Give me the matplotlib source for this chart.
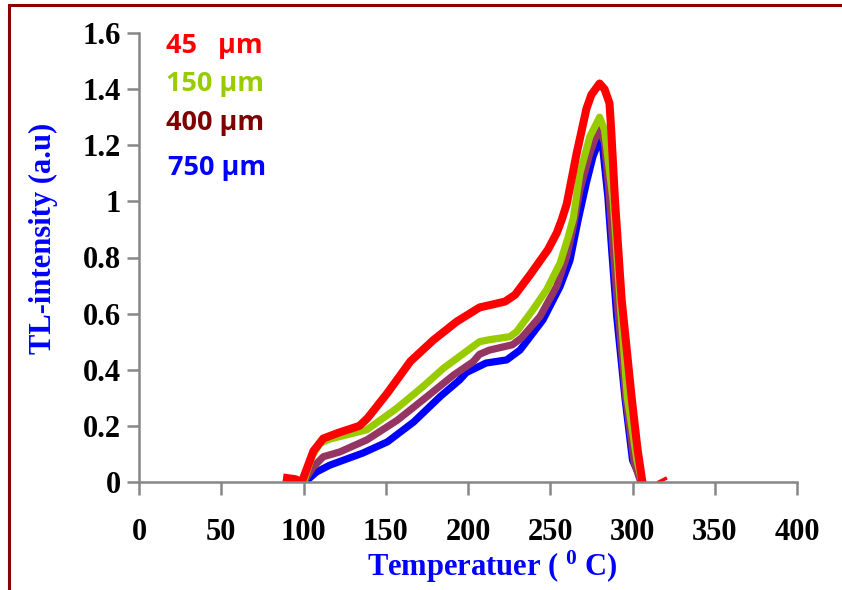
import matplotlib
matplotlib.use('Agg')
import matplotlib.pyplot as plt
from matplotlib.patches import Rectangle

plt.rcParams['mathtext.fontset'] = 'custom'
plt.rcParams['mathtext.rm'] = 'Liberation Serif:bold'
plt.rcParams['mathtext.it'] = 'Liberation Serif:bold'
plt.rcParams['mathtext.bf'] = 'Liberation Serif:bold'

# TL glow curves (temperature in deg C, intensity a.u.)
t_45 = [90, 95, 99, 106, 112, 121, 134, 139, 151, 165, 179, 193, 207, 213, 222.5,
        228.6, 237.7, 248.6, 254, 257, 260, 266, 272, 275, 280, 283, 286, 287, 289.4,
        293.4, 299.5, 303, 306]
i_45 = [0.014, 0.01, 0.0, 0.11, 0.155, 0.175, 0.2, 0.228, 0.317, 0.43, 0.506, 0.571,
        0.622, 0.63, 0.643, 0.667, 0.738, 0.828, 0.888, 0.935, 0.99, 1.17, 1.33, 1.38,
        1.42, 1.40, 1.35, 1.26, 1.0, 0.65, 0.30, 0.12, 0.0]
t_45_tail = [316, 320]
i_45_tail = [0.0, 0.012]

t_150 = [100, 105, 110, 116, 138.5, 157, 172.6, 185, 207, 213, 225.5, 229.6, 239.5,
         247.8, 256, 261, 264, 268, 274, 280, 283, 286, 288.3, 292.4, 296.9, 302.7,
         305.8]
i_150 = [0, 0.09, 0.138, 0.153, 0.186, 0.264, 0.34, 0.405, 0.50, 0.507, 0.518, 0.536,
         0.614, 0.685, 0.78, 0.875, 0.94, 1.10, 1.23, 1.30, 1.255, 1.11, 1.0, 0.65,
         0.30, 0.078, 0]

t_400 = [100, 106, 112, 122, 138.5, 157, 175, 191, 203, 207, 213, 227, 232.6, 243.8,
         253.9, 260, 264, 268, 274, 277, 280, 283, 285.5, 288, 291, 296, 301, 305]
i_400 = [0, 0.054, 0.09, 0.107, 0.15, 0.22, 0.304, 0.38, 0.428, 0.455, 0.47, 0.489,
         0.514, 0.59, 0.697, 0.804, 0.91, 1.04, 1.17, 1.22, 1.256, 1.21, 1.05, 0.85,
         0.62, 0.30, 0.07, 0]

t_750 = [101, 108, 116, 136, 151, 167, 183, 195, 199, 211, 223.5, 231.6, 245.6, 256,
         262, 267, 272, 276, 280, 282, 285, 287.3, 290.4, 295.4, 300, 304.6, 306]
i_750 = [0, 0.036, 0.06, 0.103, 0.143, 0.214, 0.304, 0.364, 0.39, 0.424, 0.435, 0.47,
         0.578, 0.697, 0.79, 0.935, 1.067, 1.16, 1.22, 1.185, 1.017, 0.83, 0.59, 0.30,
         0.078, 0.018, 0]

labels = ['45   \u00b5m', '150 \u00b5m', '400 \u00b5m', '750 \u00b5m']
x_ticks = [0, 50, 100, 150, 200, 250, 300, 350, 400]
y_ticks = [0, 0.2, 0.4, 0.6, 0.8, 1, 1.2, 1.4, 1.6]
y_tick_labels = ['0', '0.2', '0.4', '0.6', '0.8', '1', '1.2', '1.4', '1.6']

fig = plt.figure(figsize=(8.42, 5.9), dpi=100)
ax = fig.add_axes([139/842, 1-482/590, (797-139)/842, (482-33)/590])

lw = 5.2
ax.plot(t_750, i_750, color='#0000ff', lw=lw, solid_joinstyle='round')
ax.plot(t_400, i_400, color='#953563', lw=lw, solid_joinstyle='round')
ax.plot(t_150, i_150, color='#99cc00', lw=lw, solid_joinstyle='round')
ax.plot(t_45, i_45, color='#ff0000', lw=lw + 0.6, solid_joinstyle='round')
ax.plot(t_45_tail, i_45_tail, color='#ff0000', lw=2.5)

ax.set_xlim(0, 400)
ax.set_ylim(0, 1.6)
ax.set_xticks(x_ticks)
ax.set_yticks(y_ticks)
ax.set_yticklabels(y_tick_labels)
for s in ['top', 'right']:
    ax.spines[s].set_visible(False)
for s in ['left', 'bottom']:
    ax.spines[s].set_color('#868686')
    ax.spines[s].set_linewidth(1.8)
ax.tick_params(axis='both', direction='out', length=9, width=1.8, color='#868686',
               labelsize=22, labelcolor='black')
ax.tick_params(axis='x', pad=17)
ax.tick_params(axis='y', pad=4)
for lab in ax.get_xticklabels() + ax.get_yticklabels():
    lab.set_fontfamily('Liberation Serif')
    lab.set_fontweight('bold')

# legend-like labels
label_colors = ['#ff0000', '#99cc00', '#800000', '#0000ff']
label_pos = [(166, 46), (166, 84), (166, 123), (168, 168)]
for text, c, (px, py) in zip(labels, label_colors, label_pos):
    fig.text(px/842, 1-py/590, text, color=c, fontsize=19.5, fontweight='bold',
             family=['Open Sans', 'DejaVu Sans'], ha='left', va='center')

fig.text(43/842, 1-238/590, 'TL-intensity (a.u)', rotation=90, color='#0000ff',
         fontsize=22, fontweight='bold', family='Liberation Serif',
         ha='center', va='center')
fig.text(492/842, 1-567/590, 'Temperatuer ( $^{0}$ C)', color='#0000ff',
         fontsize=22, fontweight='bold', family='Liberation Serif',
         ha='center', va='center')

# dark red frame (cut off at the right and bottom)
fig.patches.append(Rectangle((9/842, -0.2), 1.2, 1.2 - 5/590, transform=fig.transFigure,
                             fill=False, edgecolor='#8b0000', linewidth=2.2))

fig.savefig('out.png', dpi=100)
